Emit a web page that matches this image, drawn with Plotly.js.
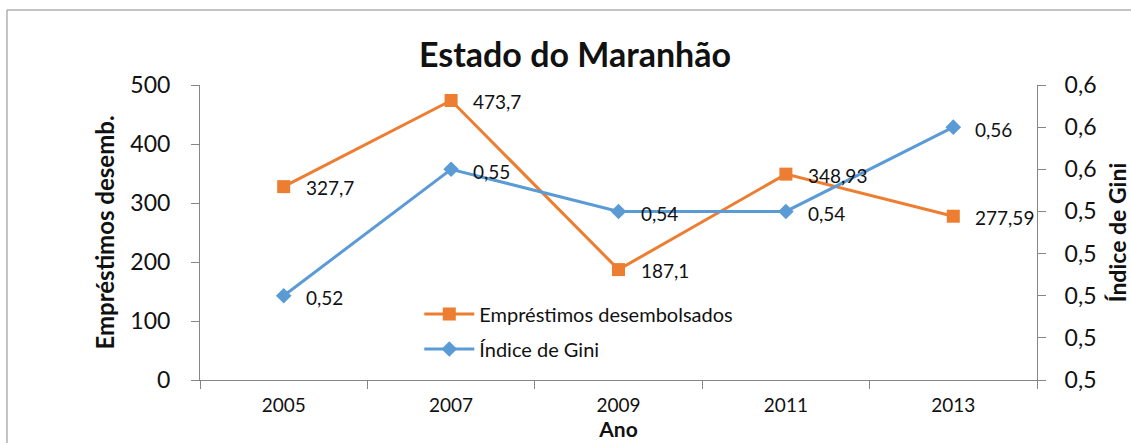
<!DOCTYPE html>
<html>
<head>
<meta charset="utf-8">
<script src="https://cdn.plot.ly/plotly-3.0.1.min.js"></script>
<style>
  html, body { margin: 0; padding: 0; background: #fff; }
  #chart { width: 1131px; height: 443px; }
</style>
</head>
<body>
<div id="chart"></div>
<script>
const anos = ['2005', '2007', '2009', '2011', '2013'];
const emprestimos = [327.7, 473.7, 187.1, 348.93, 277.59];
const gini = [0.52, 0.55, 0.54, 0.54, 0.56];
const giniTicks = [0.50, 0.51, 0.52, 0.53, 0.54, 0.55, 0.56, 0.57];
const giniTickLabels = ['0,5', '0,5', '0,5', '0,5', '0,5', '0,6', '0,6', '0,6'];
const leftTicks = [0, 100, 200, 300, 400, 500];

const fmt = v => String(v).replace('.', ',');
const FONT = 'Lato, "Open Sans", sans-serif';
const axisCol = '#868686';
const LBL = 19;

const traces = [
  {
    x: anos, y: emprestimos, name: 'Empréstimos desembolsados',
    type: 'scatter', mode: 'lines+markers',
    line: {color: '#ED7D31', width: 3},
    marker: {symbol: 'square', size: 13, color: '#ED7D31'},
    legendgroup: 'a', cliponaxis: false
  },
  {
    x: anos, y: gini, name: 'Índice de Gini', yaxis: 'y2',
    type: 'scatter', mode: 'lines+markers',
    line: {color: '#5B9BD5', width: 3},
    marker: {symbol: 'diamond', size: 12, color: '#5B9BD5'},
    legendgroup: 'b', cliponaxis: false
  }
];

// data labels: placed at each category index, to the right of the marker
const annotations = [];
anos.forEach((a, i) => {
  annotations.push({
    x: i, y: emprestimos[i], xref: 'x', yref: 'y', text: fmt(emprestimos[i]),
    showarrow: false, xanchor: 'left', yanchor: 'middle', xshift: 20, yshift: -1,
    font: {family: FONT, size: LBL, color: '#111'}
  });
  annotations.push({
    x: i, y: gini[i], xref: 'x', yref: 'y2', text: fmt(gini[i]),
    showarrow: false, xanchor: 'left', yanchor: 'middle', xshift: 20, yshift: -2,
    font: {family: FONT, size: LBL, color: '#111'}
  });
});

const layout = {
  width: 1131, height: 443,
  margin: {l: 200, r: 94, t: 85, b: 63},
  paper_bgcolor: '#fff', plot_bgcolor: '#fff',
  font: {family: FONT, color: '#111'},
  separators: ',.',
  title: {
    text: '<b>Estado do Maranhão</b>',
    font: {family: FONT, size: 34, color: '#111'},
    x: 0.448, xref: 'paper', xanchor: 'center',
    y: 0.875, yref: 'container', yanchor: 'middle'
  },
  xaxis: {
    type: 'category', range: [-0.5, 4.5],
    showline: true, linecolor: axisCol, linewidth: 1,
    showgrid: false, zeroline: false,
    ticks: 'outside', ticklen: 8, tickcolor: axisCol, tickson: 'boundaries',
    ticklabelstandoff: 8,
    tickfont: {family: FONT, size: 19, color: '#111'},
    title: {text: '<b>Ano</b>', font: {family: FONT, size: 21, color: '#111'}, standoff: 0}
  },
  yaxis: {
    range: [0, 500], tickmode: 'array', tickvals: leftTicks,
    showline: true, linecolor: axisCol, linewidth: 1,
    showgrid: false, zeroline: false,
    ticks: 'outside', ticklen: 8, tickcolor: axisCol,
    ticklabelstandoff: 16,
    tickfont: {family: FONT, size: 23, color: '#111'},
    title: {text: '<b>Empréstimos desemb.</b>', font: {family: FONT, size: 24, color: '#111'}, standoff: 8}
  },
  yaxis2: {
    overlaying: 'y', side: 'right', range: [0.50, 0.57],
    tickmode: 'array', tickvals: giniTicks, ticktext: giniTickLabels,
    showline: true, linecolor: axisCol, linewidth: 1,
    showgrid: false, zeroline: false,
    ticks: 'outside', ticklen: 8, tickcolor: axisCol,
    ticklabelstandoff: 14,
    tickfont: {family: FONT, size: 23, color: '#111'},
    title: {text: '<b>Índice de Gini</b>', font: {family: FONT, size: 23, color: '#111'}, standoff: 16}
  },
  legend: {
    x: 0.262, y: 0.29, xanchor: 'left', yanchor: 'top',
    bgcolor: 'rgba(0,0,0,0)', itemwidth: 50, tracegroupgap: 6,
    font: {family: FONT, size: 20, color: '#111'}
  },
  annotations: annotations,
  shapes: [{
    type: 'rect', xref: 'paper', yref: 'paper',
    x0: -0.2306, x1: 1.115, y0: -0.25, y1: 1.2542,
    line: {color: '#898989', width: 1}, fillcolor: 'rgba(0,0,0,0)', layer: 'below'
  }],
  showlegend: true
};

Plotly.newPlot('chart', traces, layout, {displayModeBar: false, staticPlot: true});
</script>
</body>
</html>
